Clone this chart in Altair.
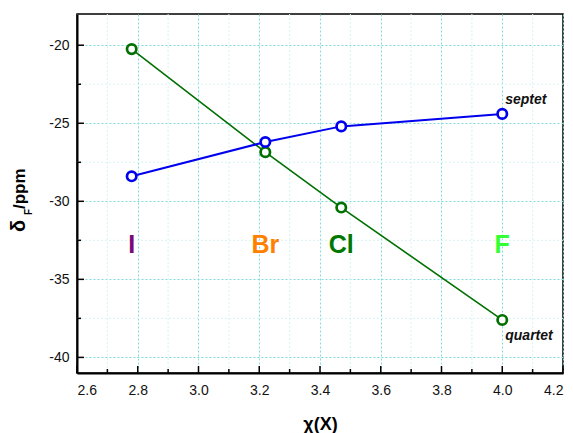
import altair as alt
import pandas as pd

# ---- data ----
elements = ["I", "Br", "Cl", "F"]
chi = [2.78, 3.22, 3.47, 4.0]
septet = [-28.4, -26.2, -25.2, -24.4]
quartet = [-20.25, -26.85, -30.4, -37.6]
element_colors = ["#7a0a7a", "#ff7f00", "#007800", "#33ff33"]
element_label_y = [-32.8, -32.8, -32.8, -32.8]

series_labels = ["septet", "quartet"]
series_label_x = [4.0, 4.0]
series_label_y = [-23.75, -38.9]

x_major = [2.6, 2.8, 3.0, 3.2, 3.4, 3.6, 3.8, 4.0, 4.2]
x_minor = [2.7, 2.9, 3.1, 3.3, 3.5, 3.7, 3.9, 4.1]
y_major = [-40, -35, -30, -25, -20]
y_minor = [-37.5, -32.5, -27.5, -22.5]

W, H = 486, 359
FONT = "Liberation Sans, Arial, sans-serif"

xs = alt.Scale(domain=[2.6, 4.2], nice=False, zero=False)
ys = alt.Scale(domain=[-41, -18], nice=False, zero=False)

df = pd.DataFrame({"chi": chi, "septet": septet, "quartet": quartet,
                   "el": elements, "col": element_colors, "ly": element_label_y})

base = alt.Chart(df)

# minor grid
gx = alt.Chart(pd.DataFrame({"v": x_minor})).mark_rule(
    color="#d8f3f3", strokeDash=[2, 2], strokeWidth=1
).encode(x=alt.X("v:Q", scale=xs))
gy = alt.Chart(pd.DataFrame({"v": y_minor})).mark_rule(
    color="#d8f3f3", strokeDash=[2, 2], strokeWidth=1
).encode(y=alt.Y("v:Q", scale=ys))

# axes carrying the major grid & labels
axis_layer = base.mark_point(opacity=0).encode(
    x=alt.X("chi:Q", scale=xs, title="χ(X)",
            axis=alt.Axis(values=x_major, format=".1f", tickSize=0,
                          labelFont=FONT, labelFontSize=14, labelColor="#111",
                          labelPadding=10,
                          titleFont=FONT, titleFontSize=18, titleFontWeight="bold",
                          titleColor="#000", titlePadding=18,
                          domainColor="#000", domainWidth=2,
                          grid=True, gridColor="#7fdcdc", gridDash=[2, 2], gridWidth=1)),
    y=alt.Y("septet:Q", scale=ys, title=None,
            axis=alt.Axis(values=y_major, labelExpr="'' + datum.value", tickSize=0,
                          labelFont=FONT, labelFontSize=14, labelColor="#111",
                          labelPadding=8,
                          domainColor="#000", domainWidth=2,
                          grid=True, gridColor="#7fdcdc", gridDash=[2, 2], gridWidth=1)),
)

# inward ticks
tx_major = alt.Chart(pd.DataFrame({"v": x_major})).mark_rule(color="#000", strokeWidth=1.5).encode(
    x=alt.X("v:Q", scale=xs), y=alt.value(H - 7), y2=alt.value(H))
tx_minor = alt.Chart(pd.DataFrame({"v": x_minor})).mark_rule(color="#000", strokeWidth=1.5).encode(
    x=alt.X("v:Q", scale=xs), y=alt.value(H - 4), y2=alt.value(H))
ty_major = alt.Chart(pd.DataFrame({"v": y_major})).mark_rule(color="#000", strokeWidth=1.5).encode(
    y=alt.Y("v:Q", scale=ys), x=alt.value(0), x2=alt.value(7))
ty_minor = alt.Chart(pd.DataFrame({"v": y_minor})).mark_rule(color="#000", strokeWidth=1.5).encode(
    y=alt.Y("v:Q", scale=ys), x=alt.value(0), x2=alt.value(4))

# series
blue_line = base.mark_line(color="#0000ee", strokeWidth=2).encode(
    x=alt.X("chi:Q", scale=xs), y=alt.Y("septet:Q", scale=ys))
blue_pts = base.mark_point(shape="circle", size=88, filled=False, fill="white",
                           fillOpacity=1, stroke="#0000ee", strokeWidth=2.7, opacity=1).encode(
    x=alt.X("chi:Q", scale=xs), y=alt.Y("septet:Q", scale=ys))
green_line = base.mark_line(color="#007000", strokeWidth=1.6).encode(
    x=alt.X("chi:Q", scale=xs), y=alt.Y("quartet:Q", scale=ys))
green_pts = base.mark_point(shape="circle", size=88, filled=False, fill="white",
                            fillOpacity=1, stroke="#007000", strokeWidth=2.7, opacity=1).encode(
    x=alt.X("chi:Q", scale=xs), y=alt.Y("quartet:Q", scale=ys))

# element labels
el_text = base.mark_text(font=FONT, fontSize=25, fontWeight="bold", align="center",
                         baseline="middle").encode(
    x=alt.X("chi:Q", scale=xs), y=alt.Y("ly:Q", scale=ys), text="el:N",
    color=alt.Color("col:N", scale=None))

# series labels
sl = alt.Chart(pd.DataFrame({"t": series_labels, "x": series_label_x, "y": series_label_y})).mark_text(
    font=FONT, fontSize=14, fontWeight="bold", fontStyle="italic", align="left",
    baseline="alphabetic", dx=3, color="#111").encode(
    x=alt.X("x:Q", scale=xs), y=alt.Y("y:Q", scale=ys), text="t:N")

# y title: δ_F/ppm
one = pd.DataFrame({"a": [0]})
t_delta = alt.Chart(one).mark_text(text="δ", font=FONT, fontSize=20, fontWeight="bold",
                                   angle=270, align="left", baseline="alphabetic", color="#000").encode(
    x=alt.value(-52), y=alt.value(218))
t_sub = alt.Chart(one).mark_text(text="F", font=FONT, fontSize=10, fontWeight="bold",
                                 angle=270, align="left", baseline="alphabetic", color="#000").encode(
    x=alt.value(-45), y=alt.value(201))
t_ppm = alt.Chart(one).mark_text(text="/ppm", font=FONT, fontSize=17, fontWeight="bold",
                                 angle=270, align="left", baseline="alphabetic", color="#000").encode(
    x=alt.value(-52), y=alt.value(195))

chart = alt.layer(
    gx, gy, axis_layer, tx_major, tx_minor, ty_major, ty_minor,
    green_line, blue_line, green_pts, blue_pts, el_text, sl,
    t_delta, t_sub, t_ppm
).properties(
    width=W, height=H,
    autosize=alt.AutoSizeParams(type="none"),
    padding={"left": 69, "top": 6, "right": 2, "bottom": 60},
    background="white",
).configure_view(stroke="#000", strokeWidth=1.5)

chart.save("out.html", embed_options={"renderer": "svg", "actions": False})
